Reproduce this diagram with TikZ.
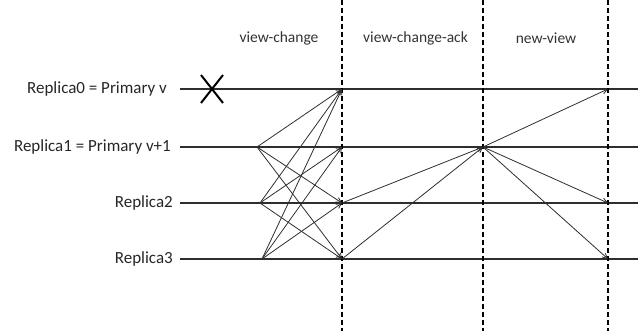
\documentclass[tikz,border=0pt]{standalone}
\usepackage{fontspec}
\setmainfont{Carlito}
\usetikzlibrary{positioning,arrows.meta,calc}
\definecolor{cLine}{HTML}{2E2E2E}

\begin{document}
\begin{tikzpicture}[x=1pt,y=1pt,
    replica/.style={anchor=east,inner sep=0pt,font=\fontsize{17}{19}\selectfont,text=black!85},
    phase/.style={inner sep=0pt,font=\fontsize{15.5}{17}\selectfont,text=black!80},
    timeline/.style={cLine,line width=1.2pt},
    barrier/.style={black,line width=1.4pt,dash pattern=on 5pt off 3pt},
    msg/.style={cLine,line width=0.8pt,-{Straight Barb[length=5pt,width=5pt]}}]
  \useasboundingbox (0,0) rectangle (638,331);
  % replica labels
  \node[replica] (r0) at (167,242) {Replica0 = Primary v};
  \node[replica] (r1) at (171,184) {Replica1 = Primary v+1};
  \node[replica] (r2) at (173,128) {Replica2};
  \node[replica] (r3) at (173,72) {Replica3};
  % time lines
  \foreach \i/\y in {0/242,1/184,2/128,3/72}{
    \coordinate (s\i) at (180,\y);
    \coordinate (e\i) at (638,\y);
    \coordinate (a\i) at (342,\y);
    \coordinate (b\i) at (483,\y);
    \coordinate (c\i) at (608,\y);
    \draw[timeline] (s\i) -- (e\i);
  }
  % phase barriers
  \foreach \x/\n in {342/p1,483/p2,608/p3}{
    \coordinate (\n top) at (\x,331);
    \coordinate (\n bot) at (\x,0);
    \draw[barrier] (\n top) -- (\n bot);
  }
  \node[phase] (vc) at (279,293) {view-change};
  \node[phase] (vca) at (415.5,293) {view-change-ack};
  \node[phase] (nv) at (546,293) {new-view};
  % primary v crashes
  \node[inner sep=0pt] (crash) at (212,242) {};
  \draw[black,line width=2pt] ($(crash)+(-11,-14)$) -- ($(crash)+(11,14)$)
        ($(crash)+(-11,14)$) -- ($(crash)+(11,-14)$);
  % view-change
  \coordinate (v1) at (257,184);
  \coordinate (v2) at (260,128);
  \coordinate (v3) at (262,72);
  \foreach \f/\t in {1/0,1/2,1/3,2/0,2/1,2/3,3/0,3/1,3/2}
    \draw[msg] (v\f) -- (a\t);
  % view-change-ack
  \draw[msg] (a2) -- (b1);
  \draw[msg] (a3) -- (b1);
  % new-view
  \foreach \t in {0,2,3}
    \draw[msg] (b1) -- (c\t);
\end{tikzpicture}
\end{document}
